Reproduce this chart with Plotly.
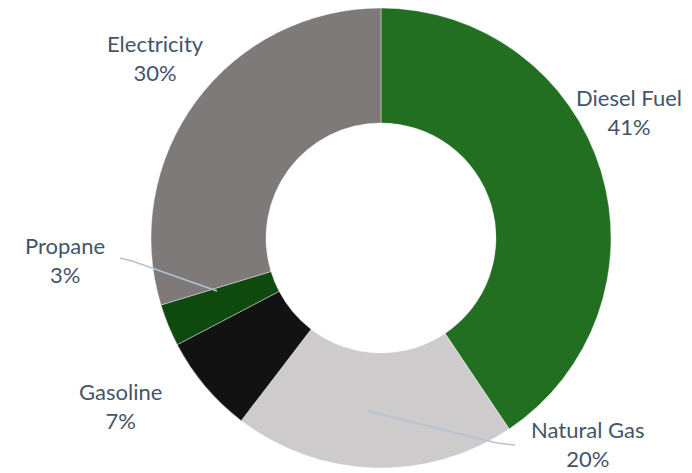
import plotly.graph_objects as go

labels = ["Diesel Fuel", "Natural Gas", "Gasoline", "Propane", "Electricity"]
values = [41, 20, 7, 3, 30]
pct_text = ["41%", "20%", "7%", "3%", "30%"]
colors = ["#226f22", "#cdcbcb", "#121212", "#0e4a0e", "#7e7a79"]

W, H = 692, 473
OFF = 8  # page body margin

# label block centres (page pixels) for the outside labels
label_pos = {
    "Diesel Fuel": (629, 112),
    "Natural Gas": (587, 444),
    "Gasoline": (120, 406),
    "Propane": (65, 260),
    "Electricity": (155, 58),
}


def px(x, y):
    return (x - OFF) / W, 1 - (y - OFF) / H


cx, cy, r = 381 - OFF, 238 - OFF, 230
fig = go.Figure(go.Pie(
    labels=labels, values=values, hole=0.5, sort=False, direction="clockwise",
    rotation=0, textinfo="none", marker=dict(colors=colors, line=dict(color="white", width=0.4)),
    domain=dict(x=[(cx - r) / W, (cx + r) / W], y=[(H - cy - r) / H, min(1, (H - cy + r) / H)]),
    showlegend=False, hoverinfo="label+percent",
))

for lab, pt in zip(labels, pct_text):
    x, y = px(*label_pos[lab])
    fig.add_annotation(x=x, y=y, xref="paper", yref="paper", xanchor="center", yanchor="middle",
                       text=f"{lab}<br>{pt}", showarrow=False,
                       font=dict(family="Lato", size=22, color="#44546a"))

leaders = [
    [(120, 258), (132, 261), (217, 291)],
    [(515, 445), (497, 443), (368, 411)],
]
for pts in leaders:
    for p0, p1 in zip(pts[:-1], pts[1:]):
        x0, y0 = px(*p0)
        x1, y1 = px(*p1)
        fig.add_shape(type="line", xref="paper", yref="paper",
                      x0=x0, y0=y0, x1=x1, y1=y1,
                      line=dict(color="#b4c2d4", width=1.5))

fig.update_layout(width=W, height=H, margin=dict(l=0, r=0, t=0, b=0),
                  paper_bgcolor="white", plot_bgcolor="white")
fig.write_html("out.html")
